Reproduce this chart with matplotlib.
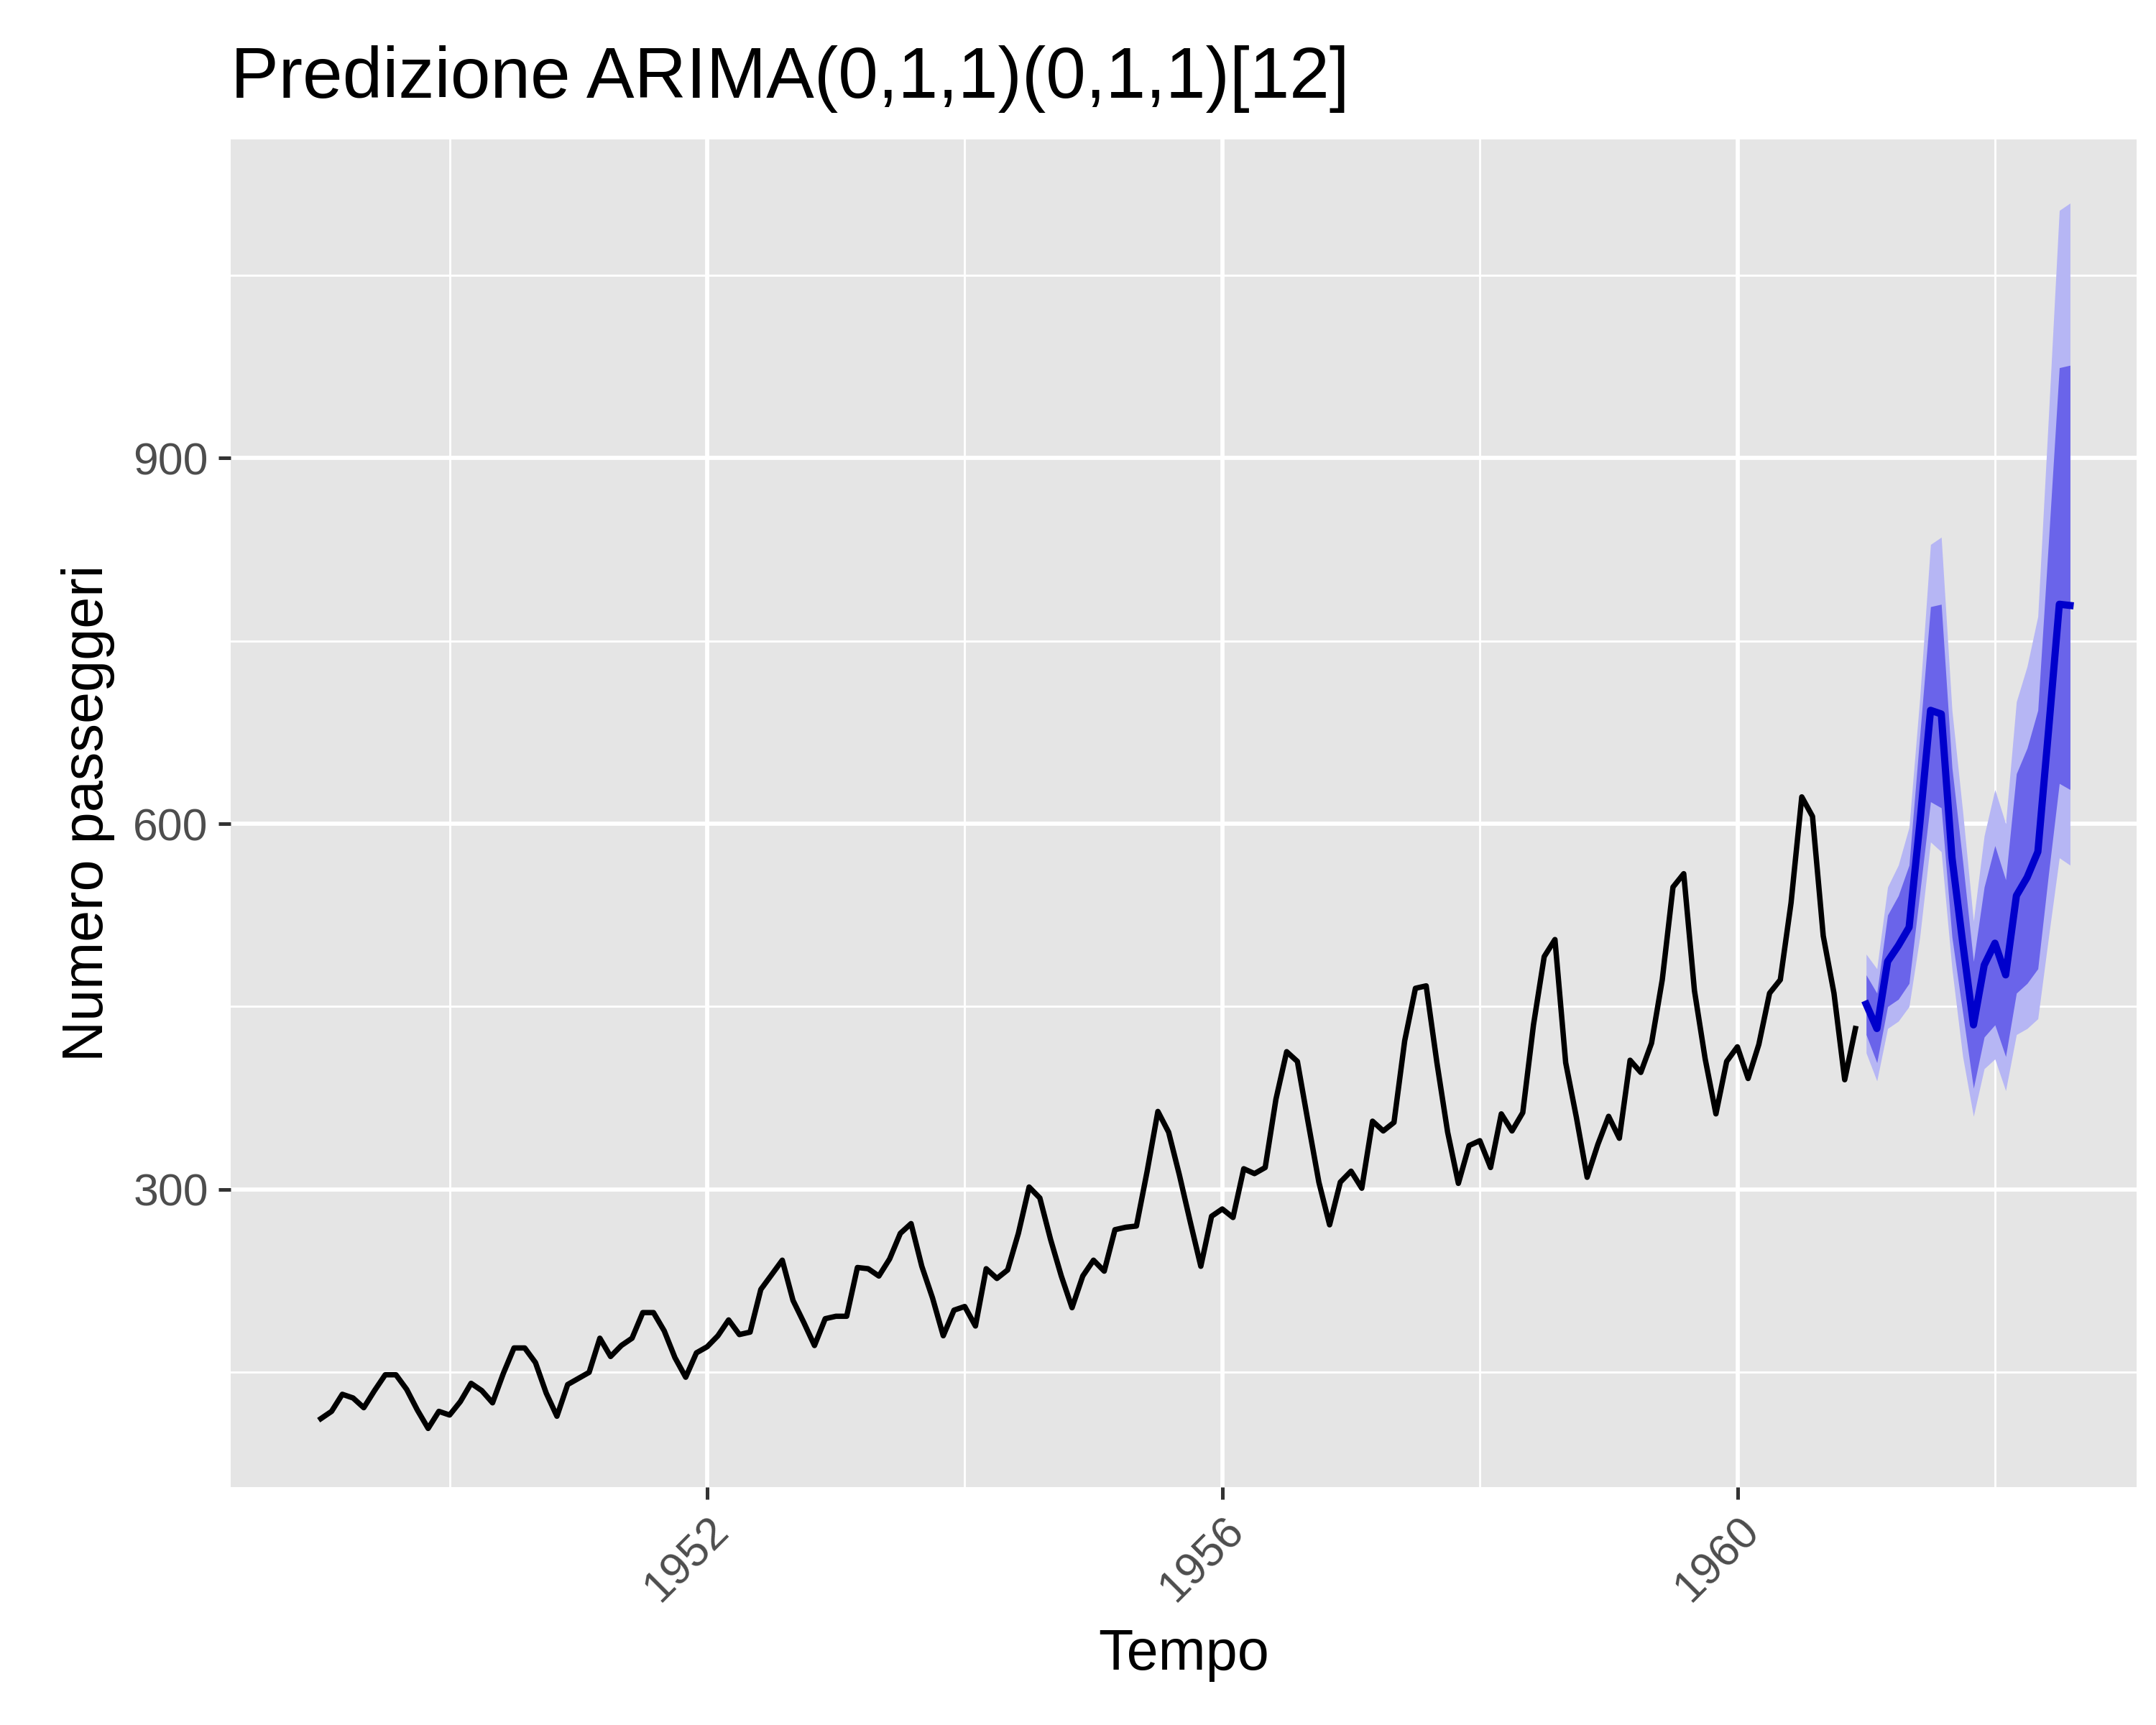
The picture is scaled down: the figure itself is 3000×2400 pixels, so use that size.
import numpy as np
import matplotlib
matplotlib.use("Agg")
import matplotlib.pyplot as plt
from matplotlib.ticker import FixedLocator

plt.rcParams['font.family'] = ['Liberation Sans', 'DejaVu Sans']

passengers = [112,118,132,129,121,135,148,148,136,119,104,118,
 115,126,141,135,125,149,170,170,158,133,114,140,
 145,150,178,163,172,178,199,199,184,162,146,166,
 171,180,193,181,183,218,230,242,209,191,172,194,
 196,196,236,235,229,243,264,272,237,211,180,201,
 204,188,235,227,234,264,302,293,259,229,203,229,
 242,233,267,269,270,315,364,347,312,274,237,278,
 284,277,317,313,318,374,413,405,355,306,271,306,
 315,301,356,348,355,422,465,467,404,347,305,336,
 340,318,362,348,363,435,491,505,404,359,310,337,
 360,342,406,396,420,472,548,559,463,407,362,405,
 417,391,419,461,472,535,622,606,508,461,390,432]
fc_mean = [452,432,487,500,515,600,693,690,572,502,435,484,502,476,541,556,577,677,780,779]
lo80 = [427,404,450,456,469,543,618,613,507,445,383,425,435,409,461,469,481,559,633,628]
hi80 = [476,461,525,541,566,672,778,780,646,569,487,548,582,554,641,662,693,832,974,976]
lo95 = [412,389,432,438,450,507,585,577,481,409,360,399,407,381,427,432,440,507,572,566]
hi95 = [493,481,548,566,597,703,829,835,693,610,520,590,628,600,700,729,770,935,1103,1109]

t = 1949 + np.arange(len(passengers)) / 12
tf = 1961 + np.arange(len(fc_mean)) / 12

fig = plt.figure(figsize=(10, 8), dpi=300)
ax = fig.add_axes([0.107, 0.138, 0.884, 0.781])
ax.set_facecolor('#E5E5E5')
ax.fill_between(tf, lo95, hi95, color='#B6B6F4', lw=0)
ax.fill_between(tf, lo80, hi80, color='#6A64EA', lw=0)
ax.plot(t, passengers, color='black', lw=1.8)
ax.plot(tf, fc_mean, color='#0000CC', lw=2.4)

ax.set_xlim(1948.30, 1963.10)
ax.set_ylim(56, 1161)
ax.xaxis.set_major_locator(FixedLocator([1952, 1956, 1960]))
ax.xaxis.set_minor_locator(FixedLocator([1950, 1954, 1958, 1962]))
ax.yaxis.set_major_locator(FixedLocator([300, 600, 900]))
ax.yaxis.set_minor_locator(FixedLocator([150, 450, 750, 1050]))
ax.grid(which='major', color='white', lw=1.4)
ax.grid(which='minor', color='white', lw=0.7)
ax.set_axisbelow(True)
for s in ax.spines.values():
    s.set_visible(False)
ax.tick_params(which='major', length=4, width=1.2, color='#333333', labelsize=15, labelcolor='#4D4D4D')
ax.tick_params(which='minor', length=0)
for lab in ax.get_xticklabels():
    lab.set_rotation(45)
    lab.set_ha('right')
    lab.set_rotation_mode('anchor')
ax.set_xlabel('Tempo', fontsize=19, labelpad=6)
ax.set_ylabel('Numero passeggeri', fontsize=19, labelpad=6)
ax.set_title('Predizione ARIMA(0,1,1)(0,1,1)[12]', fontsize=24, loc='left', pad=14)
fig.savefig('out.png', dpi=300)
